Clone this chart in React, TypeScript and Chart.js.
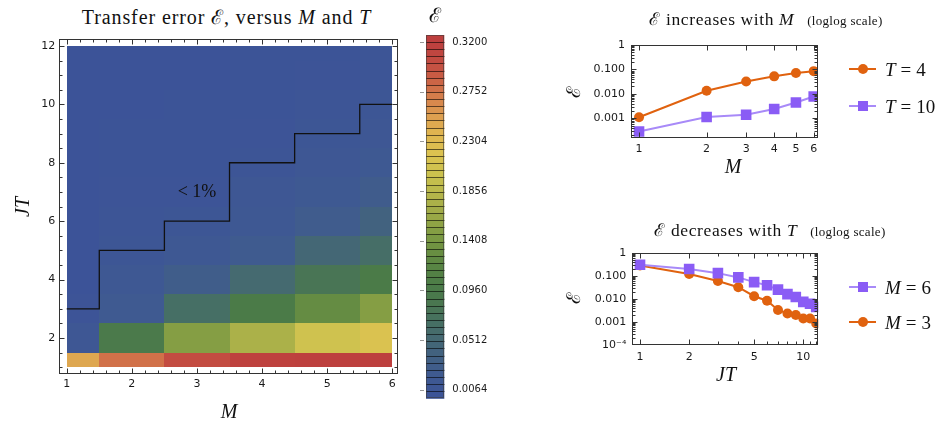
import React, { useEffect, useRef } from "react";
import { Chart, registerables } from "chart.js";
Chart.register(...registerables);

// ---------------- data ----------------
const M_VALUES = [1, 2, 3, 4, 5, 6];
const JT_VALUES = [1, 2, 3, 4, 5, 6, 7, 8, 9, 10, 11, 12];
// transfer error on the (M, JT) grid, one array per M, indexed by JT = 1..12
const ERR_M1 = [0.248, 0.012, 0.004, 0.0011, 0.0009, 0.0008, 0.0007, 0.0006, 0.0005, 0.0003, 0.0003, 0.0002];
const ERR_M2 = [0.278, 0.095, 0.02, 0.013, 0.008, 0.005, 0.004, 0.003, 0.002, 0.0012, 0.001, 0.0008];
const ERR_M3 = [0.303, 0.15, 0.065, 0.028, 0.013, 0.009, 0.0035, 0.0024, 0.0021, 0.0015, 0.0014, 0.0008];
const ERR_M4 = [0.318, 0.175, 0.1, 0.055, 0.022, 0.015, 0.011, 0.007, 0.004, 0.0025, 0.002, 0.0015];
const ERR_M5 = [0.319, 0.205, 0.128, 0.08, 0.05, 0.025, 0.016, 0.011, 0.008, 0.0045, 0.004, 0.003];
const ERR_M6 = [0.32, 0.218, 0.15, 0.1, 0.063, 0.04, 0.026, 0.016, 0.012, 0.0075, 0.006, 0.0045];
const ERR_BY_M = [ERR_M1, ERR_M2, ERR_M3, ERR_M4, ERR_M5, ERR_M6];
const THRESHOLD = 0.01;
const CONTOUR_LABEL = "< 1%";
const CONTOUR_LABEL_AT = { m: 3, jt: 7 };

const HEAT_X_TICKS = [1, 2, 3, 4, 5, 6];
const HEAT_Y_TICKS = [2, 4, 6, 8, 10, 12];
const CBAR_TICKS = [0.0064, 0.0512, 0.096, 0.1408, 0.1856, 0.2304, 0.2752, 0.32];
const CBAR_MIN = -0.0015;
const CBAR_MAX = 0.3264;
const CBAR_BANDS = 51;

// E vs M (log-log)
const M_AXIS = [1, 2, 3, 4, 5, 6];
const ERR_T4 = [0.0011, 0.0133, 0.032, 0.052, 0.071, 0.085];
const ERR_T10 = [0.000285, 0.00113, 0.0014, 0.0024, 0.0044, 0.0078];
// E vs JT (log-log)
const JT_AXIS = [1, 2, 3, 4, 5, 6, 7, 8, 9, 10, 11, 12];
const ERR_M6_T = [0.3, 0.196, 0.13, 0.085, 0.053, 0.039, 0.025, 0.016, 0.012, 0.0074, 0.0061, 0.0045];
const ERR_M3_T = [0.28, 0.12, 0.059, 0.032, 0.013, 0.0083, 0.0033, 0.0023, 0.002, 0.0014, 0.0014, 0.00085];

const TOP_X_TICKS = [1, 2, 3, 4, 5, 6];
const TOP_Y_TICKS = [1, 0.1, 0.01, 0.001];
const TOP_Y_LABELS = ["1", "0.100", "0.010", "0.001"];
const BOT_X_TICKS = [1, 2, 5, 10];
const BOT_X_MINOR = [3, 4, 6, 7, 8, 9, 11, 12];
const BOT_Y_TICKS = [1, 0.1, 0.01, 0.001, 0.0001];
const BOT_Y_LABELS = ["1", "0.100", "0.010", "0.001", "10\u207B\u2074"];

// ---------------- styles ----------------
const SERIF = "'Liberation Serif', 'DejaVu Serif', serif";
const SANS = "'DejaVu Sans', sans-serif";
const FRAME_COLOR = "#333";
const TICK_COLOR = "#1a1a1a";
const ORANGE = "#e0620f";
const PURPLE = "#8a5cf5";
const PURPLE_LINE = "#a88af8";

const CMAP: [number, string][] = [
  [0.0, "#3c5398"],
  [0.02, "#3f5a91"],
  [0.04, "#42627f"],
  [0.055, "#456a70"],
  [0.07, "#477160"],
  [0.085, "#4a7750"],
  [0.1, "#4b7b48"],
  [0.12, "#5a8643"],
  [0.14, "#759642"],
  [0.16, "#95a646"],
  [0.18, "#b2b44a"],
  [0.2, "#cbc24e"],
  [0.22, "#dcc250"],
  [0.24, "#e0b450"],
  [0.255, "#dd9c50"],
  [0.27, "#d6804c"],
  [0.285, "#cc6446"],
  [0.3, "#c44e42"],
  [0.32, "#bd3f3e"],
];

function hex(h: string) {
  return [parseInt(h.slice(1, 3), 16), parseInt(h.slice(3, 5), 16), parseInt(h.slice(5, 7), 16)];
}
function colorRGB(v: number) {
  if (v <= CMAP[0][0]) return hex(CMAP[0][1]);
  for (let i = 1; i < CMAP.length; i++) {
    if (v <= CMAP[i][0]) {
      const [a, ca] = CMAP[i - 1];
      const [b, cb] = CMAP[i];
      const t = (v - a) / (b - a);
      const A = hex(ca), B = hex(cb);
      return A.map((x, k) => Math.round(x + (B[k] - x) * t));
    }
  }
  return hex(CMAP[CMAP.length - 1][1]);
}
function color(v: number, f = 1) {
  const c = colorRGB(v).map((x) => Math.round(x * f));
  return `rgb(${c[0]},${c[1]},${c[2]})`;
}

function frame(id: string, xMajor: number[], xMinor: number[], yMajor: number[], yMinor: number[]) {
  return {
    id,
    afterDraw(chart: any) {
      const { ctx, chartArea: a, scales } = chart;
      const xs = scales.x, ys = scales.y;
      const L = Math.round(a.left) + 0.5, R = Math.round(a.right) - 0.5;
      const T = Math.round(a.top) + 0.5, B = Math.round(a.bottom) - 0.5;
      ctx.save();
      ctx.strokeStyle = FRAME_COLOR;
      ctx.lineWidth = 1;
      ctx.strokeRect(L, T, R - L, B - T);
      ctx.beginPath();
      const xt = (vals: number[], len: number) => {
        vals.forEach((v) => {
          const p = Math.round(xs.getPixelForValue(v)) + 0.5;
          if (p < L || p > R) return;
          ctx.moveTo(p, B); ctx.lineTo(p, B - len);
          ctx.moveTo(p, T); ctx.lineTo(p, T + len);
        });
      };
      const yt = (vals: number[], len: number) => {
        vals.forEach((v) => {
          const p = Math.round(ys.getPixelForValue(v)) + 0.5;
          if (p < T || p > B) return;
          ctx.moveTo(L, p); ctx.lineTo(L + len, p);
          ctx.moveTo(R, p); ctx.lineTo(R - len, p);
        });
      };
      xt(xMajor, 5); xt(xMinor, 3); yt(yMajor, 5); yt(yMinor, 3);
      ctx.stroke();
      ctx.restore();
    },
  };
}

const heatPlugin = {
  id: "heat",
  beforeDatasetsDraw(chart: any) {
    const { ctx, scales } = chart;
    const xs = scales.x, ys = scales.y;
    const xLo = Math.min(...M_VALUES), xHi = Math.max(...M_VALUES);
    const yLo = Math.min(...JT_VALUES), yHi = Math.max(...JT_VALUES);
    ctx.save();
    M_VALUES.forEach((m, mi) => {
      JT_VALUES.forEach((jt, ji) => {
        const v = ERR_BY_M[mi][ji];
        const x0 = Math.round(xs.getPixelForValue(Math.max(m - 0.5, xLo)));
        const x1 = Math.round(xs.getPixelForValue(Math.min(m + 0.5, xHi)));
        const y0 = Math.round(ys.getPixelForValue(Math.min(jt + 0.5, yHi)));
        const y1 = Math.round(ys.getPixelForValue(Math.max(jt - 0.5, yLo)));
        ctx.fillStyle = color(v);
        ctx.fillRect(x0, y0, x1 - x0, y1 - y0);
      });
    });
    // contour of THRESHOLD as a staircase
    const levels = M_VALUES.map((m, mi) => {
      const j = ERR_BY_M[mi].findIndex((v) => v < THRESHOLD);
      return JT_VALUES[j];
    });
    ctx.strokeStyle = "#111";
    ctx.lineWidth = 1.3;
    ctx.beginPath();
    ctx.moveTo(xs.getPixelForValue(xLo), ys.getPixelForValue(levels[0]));
    M_VALUES.forEach((m, mi) => {
      const xr = xs.getPixelForValue(Math.min(m + 0.5, xHi));
      ctx.lineTo(xr, ys.getPixelForValue(levels[mi]));
      if (mi < M_VALUES.length - 1) ctx.lineTo(xr, ys.getPixelForValue(levels[mi + 1]));
    });
    ctx.stroke();
    ctx.fillStyle = "#111";
    ctx.font = `18px ${SERIF}`;
    ctx.textAlign = "center";
    ctx.textBaseline = "middle";
    ctx.fillText(CONTOUR_LABEL, xs.getPixelForValue(CONTOUR_LABEL_AT.m), ys.getPixelForValue(CONTOUR_LABEL_AT.jt));
    ctx.restore();
  },
};

const barPlugin = {
  id: "cbar",
  afterDraw(chart: any) {
    const { ctx, chartArea: a, scales } = chart;
    const ys = scales.y;
    const d = (CBAR_MAX - CBAR_MIN) / CBAR_BANDS;
    ctx.save();
    for (let i = 0; i < CBAR_BANDS; i++) {
      const lo = CBAR_MIN + i * d, hi = lo + d;
      const yb = ys.getPixelForValue(lo), yt = ys.getPixelForValue(hi);
      ctx.fillStyle = color((lo + hi) / 2);
      ctx.fillRect(a.left, yt, a.right - a.left, yb - yt + 0.5);
    }
    for (let i = 1; i < CBAR_BANDS; i++) {
      const v = CBAR_MIN + i * d;
      const y = Math.round(ys.getPixelForValue(v)) + 0.5;
      ctx.strokeStyle = color(v, 0.42);
      ctx.lineWidth = 1;
      ctx.beginPath();
      ctx.moveTo(a.left, y);
      ctx.lineTo(a.right, y);
      ctx.stroke();
    }
    ctx.strokeStyle = "rgba(60,60,60,0.6)";
    ctx.strokeRect(Math.round(a.left) + 0.5, Math.round(a.top) + 0.5, Math.round(a.right - a.left) - 1, Math.round(a.bottom - a.top) - 1);
    ctx.strokeStyle = "#999";
    ctx.beginPath();
    CBAR_TICKS.forEach((v) => {
      const y = Math.round(ys.getPixelForValue(v)) + 0.5;
      ctx.moveTo(a.left - 6, y);
      ctx.lineTo(a.left - 2, y);
    });
    ctx.stroke();
    ctx.restore();
  },
};

function minorsLinear(lo: number, hi: number, step: number, majors: number[]) {
  const out: number[] = [];
  for (let v = Math.ceil(lo / step) * step; v <= hi + 1e-9; v += step) {
    const r = Math.round(v * 1000) / 1000;
    if (!majors.includes(r)) out.push(r);
  }
  return out;
}
function minorsLog(lo: number, hi: number) {
  const out: number[] = [];
  for (let e = -5; e <= 1; e++) for (let k = 2; k <= 9; k++) {
    const v = k * Math.pow(10, e);
    if (v > lo && v < hi) out.push(v);
  }
  return out;
}

function axis(opts: any) {
  const { min, max, ticks, labels, size, padding, fit, type } = opts;
  return {
    type: type || "linear",
    min, max,
    grid: { display: false, drawTicks: false },
    border: { display: false },
    ticks: {
      padding,
      color: TICK_COLOR,
      font: { family: SANS, size },
      autoSkip: false,
      maxRotation: 0,
      callback: (v: number) => (labels ? labels[ticks.indexOf(v)] ?? "" : String(v)),
    },
    afterBuildTicks: (s: any) => { s.ticks = ticks.map((v: number) => ({ value: v })); },
    afterFit: fit,
  };
}

function heatConfig(): any {
  const xMin = 0.886, xMax = 6.092, yMin = 0.77, yMax = 12.25;
  return {
    type: "scatter",
    data: { datasets: [] },
    options: {
      responsive: false, animation: false,
      layout: { padding: { left: 0, right: 21.7, top: 7, bottom: 0 } },
      plugins: { legend: { display: false }, tooltip: { enabled: false } },
      scales: {
        x: axis({ min: xMin, max: xMax, ticks: HEAT_X_TICKS, size: 11, padding: 4, fit: (s: any) => { s.height = 47; } }),
        y: axis({ min: yMin, max: yMax, ticks: HEAT_Y_TICKS, size: 11, padding: 4, fit: (s: any) => { s.width = 59.3; } }),
      },
    },
    plugins: [heatPlugin, frame("hf", HEAT_X_TICKS, minorsLinear(xMin, xMax, 0.2, HEAT_X_TICKS), HEAT_Y_TICKS, minorsLinear(yMin, yMax, 0.5, HEAT_Y_TICKS))],
  };
}

function barConfig(): any {
  return {
    type: "scatter",
    data: { datasets: [] },
    options: {
      responsive: false, animation: false,
      layout: { padding: { left: 16, right: 0, top: 15, bottom: 21.7 } },
      plugins: { legend: { display: false }, tooltip: { enabled: false } },
      scales: {
        x: { display: false, min: 0, max: 1 },
        y: {
          ...axis({ min: CBAR_MIN, max: CBAR_MAX, ticks: CBAR_TICKS, size: 10, padding: 8, fit: (s: any) => { s.width = 45.7; } }),
          position: "right",
          ticks: { padding: 8, color: TICK_COLOR, font: { family: SANS, size: 10 }, autoSkip: false, callback: (v: number) => v.toFixed(4) },
        },
      },
    },
    plugins: [barPlugin],
  };
}

function lineConfig(o: any): any {
  return {
    type: "line",
    data: { datasets: o.datasets },
    options: {
      responsive: false, animation: false,
      layout: { padding: o.padding },
      plugins: { legend: { display: false }, tooltip: { enabled: false } },
      scales: {
        x: axis({ type: "logarithmic", min: o.xMin, max: o.xMax, ticks: o.xTicks, size: 11, padding: o.xPad, fit: (s: any) => { s.height = o.xH; } }),
        y: axis({ type: "logarithmic", min: o.yMin, max: o.yMax, ticks: o.yTicks, labels: o.yLabels, size: 11, padding: o.yPad, fit: (s: any) => { s.width = o.yW; } }),
      },
    },
    plugins: [frame(o.id, o.xTicks, o.xMinor, o.yTicks, minorsLog(o.yMin, o.yMax))],
  };
}

const orangeDs = (xs: number[], ys: number[]) => ({
  data: xs.map((x, i) => ({ x, y: ys[i] })),
  borderColor: ORANGE, backgroundColor: ORANGE, borderWidth: 2,
  pointStyle: "circle", pointRadius: 5, pointBorderWidth: 0, pointBackgroundColor: ORANGE, tension: 0,
});
const purpleDs = (xs: number[], ys: number[]) => ({
  data: xs.map((x, i) => ({ x, y: ys[i] })),
  borderColor: PURPLE_LINE, backgroundColor: PURPLE, borderWidth: 2,
  pointStyle: "rect", pointRadius: 7.5, pointBorderWidth: 0, pointBackgroundColor: PURPLE, tension: 0,
});

function Txt(p: { x: number; y: number; size: number; rot?: number; ls?: number; children: any }) {
  return (
    <div style={{ position: "absolute", left: p.x, top: p.y, transform: `translate(-50%,-50%) rotate(${p.rot || 0}deg)`, whiteSpace: "nowrap", fontFamily: SERIF, fontSize: p.size, letterSpacing: p.ls || 0, lineHeight: 1, color: "#111" }}>
      {p.children}
    </div>
  );
}

const Eq = () => <span style={{ margin: "0 5px" }}>=</span>;

function LegendItem(p: { y: number; color: string; lineColor: string; square?: boolean; children: any }) {
  return (
    <>
      <div style={{ position: "absolute", left: 849, top: p.y - 1, width: 27, height: 2, background: p.lineColor }} />
      <div style={{ position: "absolute", left: p.square ? 858 : 858, top: p.y - 5, width: 10, height: 10, borderRadius: p.square ? 0 : "50%", background: p.color }} />
      <div style={{ position: "absolute", left: 885, top: p.y, transform: "translateY(-50%)", fontFamily: SERIF, fontSize: 19, lineHeight: 1, whiteSpace: "nowrap", color: "#111" }}>{p.children}</div>
    </>
  );
}

export default function App() {
  const heatRef = useRef<HTMLCanvasElement>(null);
  const barRef = useRef<HTMLCanvasElement>(null);
  const topRef = useRef<HTMLCanvasElement>(null);
  const botRef = useRef<HTMLCanvasElement>(null);

  useEffect(() => {
    const charts = [
      new Chart(heatRef.current!, heatConfig()),
      new Chart(barRef.current!, barConfig()),
      new Chart(topRef.current!, lineConfig({
        id: "tf",
        datasets: [orangeDs(M_AXIS, ERR_T4), purpleDs(M_AXIS, ERR_T10)],
        xMin: 0.921, xMax: 6.25, yMin: 1.51e-4, yMax: 1,
        xTicks: TOP_X_TICKS, xMinor: [], yTicks: TOP_Y_TICKS, yLabels: TOP_Y_LABELS,
        padding: { left: 0, right: 22.3, top: 15, bottom: 0 }, xH: 51.7, yW: 71, xPad: 4, yPad: 6,
      })),
      new Chart(botRef.current!, lineConfig({
        id: "bf",
        datasets: [purpleDs(JT_AXIS, ERR_M6_T), orangeDs(JT_AXIS, ERR_M3_T)],
        xMin: 0.897, xMax: 12.36, yMin: 1e-4, yMax: 1,
        xTicks: BOT_X_TICKS, xMinor: BOT_X_MINOR, yTicks: BOT_Y_TICKS, yLabels: BOT_Y_LABELS,
        padding: { left: 0, right: 21.7, top: 12.7, bottom: 0 }, xH: 65, yW: 72.3, xPad: 6, yPad: 6,
      })),
    ];
    return () => charts.forEach((c) => c.destroy());
  }, []);

  const E = "\u2130";
  return (
    <div style={{ position: "absolute", left: 0, top: 0, width: 938, height: 421, background: "#fff", overflow: "hidden" }}>
      <canvas ref={heatRef} width={420} height={393} style={{ position: "absolute", left: 0, top: 28, width: 420, height: 393 }} />
      <canvas ref={barRef} width={80} height={400} style={{ position: "absolute", left: 410, top: 20, width: 80, height: 400 }} />
      <canvas ref={topRef} width={280} height={160} style={{ position: "absolute", left: 560, top: 30, width: 280, height: 160 }} />
      <canvas ref={botRef} width={280} height={170} style={{ position: "absolute", left: 560, top: 240, width: 280, height: 170 }} />

      <Txt x={226.5} y={17} size={20} ls={0.9}>Transfer error {E}, versus <i>M</i> and <i>T</i></Txt>
      <Txt x={229} y={411} size={20}><i>M</i></Txt>
      <Txt x={22} y={207} size={20} rot={-90}><i>JT</i></Txt>
      <Txt x={435} y={15} size={20}>{E}</Txt>

      <Txt x={766} y={20} size={17.5} ls={0.6}>{E} increases with <i>M</i> <span style={{ fontSize: 13, marginLeft: 8, letterSpacing: 0.3 }}>(loglog scale)</span></Txt>
      <Txt x={573} y={92} size={19} rot={-90}>{E}</Txt>
      <Txt x={733} y={166} size={20}><i>M</i></Txt>
      <LegendItem y={69} color={ORANGE} lineColor={ORANGE}><i>T</i><Eq />4</LegendItem>
      <LegendItem y={106} color={PURPLE} lineColor={PURPLE_LINE} square><i>T</i><Eq />10</LegendItem>

      <Txt x={770} y={231} size={17.5} ls={0.6}>{E} decreases with <i>T</i> <span style={{ fontSize: 13, marginLeft: 8, letterSpacing: 0.3 }}>(loglog scale)</span></Txt>
      <Txt x={573} y={298} size={19} rot={-90}>{E}</Txt>
      <Txt x={726} y={374} size={20}><i>JT</i></Txt>
      <LegendItem y={287} color={PURPLE} lineColor={PURPLE_LINE} square><i>M</i><Eq />6</LegendItem>
      <LegendItem y={322} color={ORANGE} lineColor={ORANGE}><i>M</i><Eq />3</LegendItem>
    </div>
  );
}
